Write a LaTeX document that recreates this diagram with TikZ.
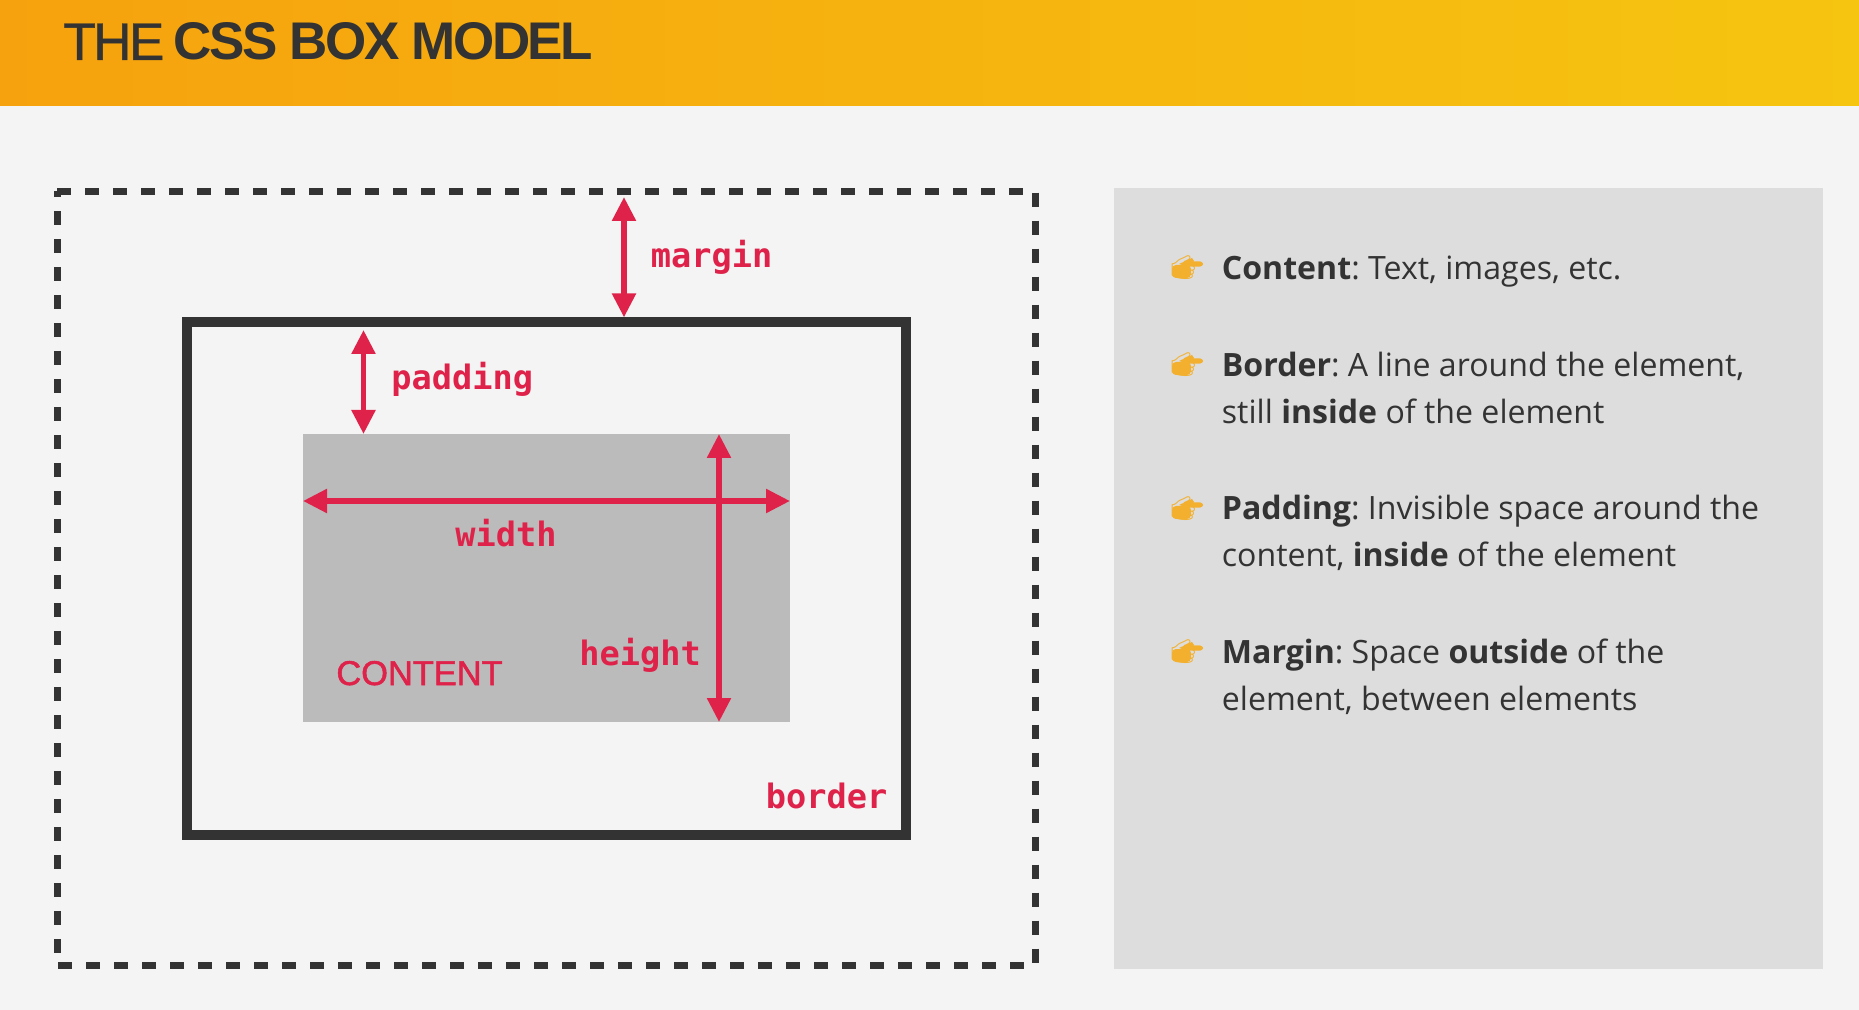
\documentclass[tikz,border=0pt]{standalone}
\usepackage{fontspec}
\usetikzlibrary{arrows.meta}
\setmainfont{Open Sans}
\newfontfamily\headfont{Liberation Sans}[LetterSpace=-4.8]
\newfontfamily\capsfont{Liberation Sans}[FakeBold=1.5]
\newfontfamily\codefont{DejaVu Sans Mono}
\newfontfamily\emojifont{Noto Emoji}
\definecolor{pagebg}{HTML}{F4F4F4}
\definecolor{panelbg}{HTML}{DDDDDD}
\definecolor{contentbg}{HTML}{BBBBBB}
\definecolor{inkdark}{HTML}{333333}
\definecolor{crimson}{HTML}{DF2249}
\definecolor{bandleft}{HTML}{F6A20E}
\definecolor{bandright}{HTML}{F6C510}
\definecolor{handcol}{HTML}{F3B02E}
\tikzset{
  boxbase/.style={rectangle,inner sep=0pt,outer sep=0pt},
  marginbox/.style={boxbase},
  marginside/.style={draw=inkdark,line width=3.65pt,dash pattern=on 7pt off 7pt},
  borderbox/.style={boxbase,draw=inkdark,line width=4.6pt,outer sep=2.3pt},
  contentbox/.style={boxbase,fill=contentbg},
  panelbox/.style={boxbase,fill=panelbg},
  measure/.style={crimson,line width=2.7pt,{Triangle[length=12pt,width=11.5pt]}-{Triangle[length=12pt,width=11.5pt]}},
  codelabel/.style={anchor=base west,inner sep=0pt,text=crimson,font=\codefont\bfseries\fontsize{16.8}{20}\selectfont},
  itemtext/.style={anchor=base west,inner sep=0pt,text=inkdark,align=left,font=\frenchspacing\fontsize{16.05}{23.5}\selectfont},
  handmark/.style={anchor=center,inner sep=0pt,text=handcol,font=\emojifont\fontsize{13}{13}\selectfont},
}
\begin{document}
\begin{tikzpicture}[x=.5pt,y=-.5pt]
  \useasboundingbox (0,0) rectangle (1859,1010);
  \fill[pagebg] (0,0) rectangle (1859,1010);
  \shade[left color=bandleft,right color=bandright] (0,0) rectangle (1859,106);
  \node[anchor=base west,inner sep=0pt,text=inkdark,font=\headfont\fontsize{26.5}{30}\selectfont] (title) at (63,60) {{\addfontfeature{FakeBold=.8}THE} \textbf{CSS BOX MODEL}};
  % the three boxes
  \node[marginbox,minimum width=489.3pt,minimum height=387.05pt] (outer) at (546.5,578.35) {};
  \foreach \sidefrom/\sideto/\sidephase in {north west/north east/0pt,north east/south east/13.3pt,south west/south east/13.6pt,south west/north west/7.65pt}
    \draw[marginside,dash phase=\sidephase] (outer.\sidefrom) -- (outer.\sideto);
  \node[borderbox,minimum width=359.5pt,minimum height=256.5pt] (edge) at (546.5,578.5) {};
  \node[contentbox,minimum width=243.5pt,minimum height=144pt] (inner) at (546.5,578) {};
  % measures
  \coordinate (marginx) at (624,197);
  \coordinate (paddingx) at (363.5,330);
  \coordinate (heightx) at (719,0);
  \coordinate (widthy) at (0,501);
  \draw[measure] (marginx) -- (marginx |- edge.north);
  \draw[measure] (paddingx) -- (paddingx |- inner.north);
  \draw[measure] (inner.west |- widthy) -- (inner.east |- widthy);
  \draw[measure] (heightx |- inner.north) -- (heightx |- inner.south);
  \node[codelabel] (marginlabel) at (650.5,267.5) {margin};
  \node[codelabel] (paddinglabel) at (391,390) {padding};
  \node[codelabel] (widthlabel) at (455,546.5) {width};
  \node[codelabel] (heightlabel) at (579,665) {height};
  \node[codelabel] (borderlabel) at (765.5,808.5) {border};
  \node[anchor=base west,inner sep=0pt,text=crimson,font=\capsfont\fontsize{17.2}{20}\selectfont] (contentlabel) at (336,685) {CONTENT};
  % right panel
  \node[panelbox,minimum width=354.25pt,minimum height=390.5pt] (panel) at (1468.25,578.5) {};
  \node[itemtext] (item1) at (1221.5,280) {\textbf{Content}: Text, images, etc.};
  \node[itemtext] (item2) at (1221.5,423.5) {\textbf{Border}: A line around the element,\\still \textbf{inside} of the element};
  \node[itemtext] (item3) at (1221.5,567) {\textbf{Padding}: Invisible space around the\\content, \textbf{inside} of the element};
  \node[itemtext] (item4) at (1221.5,710) {\textbf{Margin}: Space \textbf{outside} of the\\element, between elements};
  \foreach \handname/\handy in {hand1/267,hand2/364,hand3/508,hand4/651}{
    \fill[handcol,rounded corners=2pt] (1172,\handy-2) rectangle (1191,\handy+11);
    \fill[handcol,rounded corners=1pt] (1188,\handy-5) rectangle (1203,\handy-1);
    \fill[handcol] (1179,\handy-3) -- (1192,\handy-9) -- (1194,\handy-6) -- (1188,\handy);
    \node[handmark] (\handname) at (1187,\handy+1) {\char"1F449};
  }
\end{tikzpicture}
\end{document}
